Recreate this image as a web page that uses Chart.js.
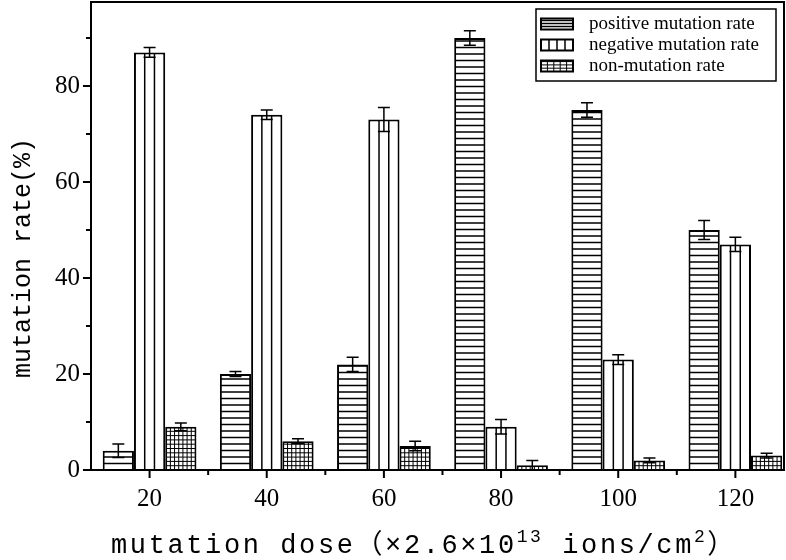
<!DOCTYPE html>
<html>
<head>
<title>Mutation rate vs dose</title>
<meta charset="utf-8">
<script src="https://cdn.jsdelivr.net/npm/chart.js"></script>
<style>
  body { margin: 0; background: #fff; }
  canvas { display: block; }
</style>
</head>
<body>
<canvas id="rateChart" width="786" height="560"></canvas>
<script>
// values
const doses = [20, 40, 60, 80, 100, 120];
const positiveRate = [4, 20, 22, 90, 75, 50];
const negativeRate = [87, 74, 73, 9, 23, 47];
const nonRate = [9, 6, 5, 1, 2, 3];
const positiveErr = [1.4, 0.5, 1.5, 1.5, 1.5, 2];
const negativeErr = [1, 1, 2.5, 1.5, 1, 1.5];
const nonErr = [0.8, 0.5, 1, 1, 0.5, 0.5];
const yTicks = [0, 20, 40, 60, 80];
const yMinorTicks = [10, 30, 50, 70, 90];
const xMinorTicks = [30, 50, 70, 90, 110];
const seriesNames = ['positive mutation rate', 'negative mutation rate', 'non-mutation rate'];
const hatchKinds = ['h', 'v', 'g'];
const errors = [positiveErr, negativeErr, nonErr];

// fill a rectangle with one of the three hatch styles
function hatch(ctx, kind, l, t, r, b, small) {
  ctx.save();
  ctx.beginPath();
  ctx.rect(l, t, r - l, b - t);
  ctx.clip();
  ctx.strokeStyle = '#000';
  ctx.beginPath();
  if (kind === 'h') {
    ctx.lineWidth = 1.5;
    const step = small ? 3 : 6.5;
    for (let y = b - step; y > t + 0.5; y -= step) { ctx.moveTo(l, y); ctx.lineTo(r, y); }
  } else if (kind === 'v') {
    ctx.lineWidth = 1.5;
    const n = small ? 4 : 3;
    const w = (r - l) / n;
    for (let i = 1; i < n; i++) { ctx.moveTo(l + w * i, t); ctx.lineTo(l + w * i, b); }
  } else {
    ctx.lineWidth = 1;
    const n = small ? 5 : 7;
    const w = (r - l) / n;
    for (let i = 1; i < n; i++) { ctx.moveTo(l + w * i, t); ctx.lineTo(l + w * i, b); }
    const step = small ? 3.3 : 4.3;
    for (let y = b - step; y > t + 0.5; y -= step) { ctx.moveTo(l, y); ctx.lineTo(r, y); }
  }
  ctx.stroke();
  ctx.restore();
}

const decorations = {
  id: 'decorations',
  afterDatasetsDraw(chart) {
    const ctx = chart.ctx;
    const yScale = chart.scales.y;
    const xScale = chart.scales.x;
    const area = chart.chartArea;

    // hatching inside bars
    chart.data.datasets.forEach((ds, i) => {
      chart.getDatasetMeta(i).data.forEach(bar => {
        const p = bar.getProps(['x', 'y', 'base', 'width'], true);
        hatch(ctx, hatchKinds[i], p.x - p.width / 2 + 1, p.y + 1, p.x + p.width / 2 - 1, p.base);
      });
    });

    // error bars
    ctx.save();
    ctx.strokeStyle = '#000';
    ctx.lineWidth = 1.5;
    chart.data.datasets.forEach((ds, i) => {
      chart.getDatasetMeta(i).data.forEach((bar, j) => {
        const v = ds.data[j].y;
        const e = errors[i][j];
        const top = yScale.getPixelForValue(v + e);
        const bot = yScale.getPixelForValue(v - e);
        const x = bar.x;
        ctx.beginPath();
        ctx.moveTo(x, top); ctx.lineTo(x, bot);
        ctx.moveTo(x - 6, top); ctx.lineTo(x + 6, top);
        ctx.moveTo(x - 6, bot); ctx.lineTo(x + 6, bot);
        ctx.stroke();
      });
    });
    ctx.restore();

    // frame and tick marks
    ctx.save();
    ctx.strokeStyle = '#000';
    ctx.lineWidth = 2;
    ctx.strokeRect(area.left, area.top, area.right - area.left, area.bottom - area.top);
    ctx.beginPath();
    yTicks.forEach(v => { const y = yScale.getPixelForValue(v); ctx.moveTo(area.left - 8, y); ctx.lineTo(area.left, y); });
    yMinorTicks.forEach(v => { const y = yScale.getPixelForValue(v); ctx.moveTo(area.left - 5, y); ctx.lineTo(area.left, y); });
    doses.forEach(v => { const x = xScale.getPixelForValue(v); ctx.moveTo(x, area.bottom); ctx.lineTo(x, area.bottom + 8); });
    xMinorTicks.forEach(v => { const x = xScale.getPixelForValue(v); ctx.moveTo(x, area.bottom); ctx.lineTo(x, area.bottom + 5); });
    ctx.stroke();
    ctx.restore();

    // legend box
    ctx.save();
    ctx.fillStyle = '#fff';
    ctx.fillRect(536, 9, 240, 72);
    ctx.strokeStyle = '#000';
    ctx.lineWidth = 1.5;
    ctx.strokeRect(536, 9, 240, 72);
    const rows = [24, 45, 66];
    seriesNames.forEach((name, i) => {
      const cy = rows[i];
      ctx.fillStyle = '#fff';
      ctx.fillRect(541, cy - 5.5, 32, 11);
      hatch(ctx, hatchKinds[i], 541, cy - 5.5, 573, cy + 5.5, true);
      ctx.lineWidth = 2;
      ctx.strokeStyle = '#000';
      ctx.strokeRect(541, cy - 5.5, 32, 11);
      ctx.fillStyle = '#000';
      ctx.font = '19px "Liberation Serif"';
      ctx.textBaseline = 'middle';
      ctx.textAlign = 'left';
      ctx.fillText(name, 589, cy);
    });
    ctx.restore();

    // axis titles
    ctx.save();
    ctx.fillStyle = '#000';
    ctx.textBaseline = 'alphabetic';
    const big = '27px "Liberation Mono", "Noto Sans CJK SC"';
    const sup = '18px "Liberation Mono"';
    ctx.letterSpacing = '2.6px';
    const parts = [
      ['mutation dose（×2.6×10', big, 0],
      ['13', sup, -11],
      [' ions/cm', big, 0],
      ['2', sup, -11],
      ['）', big, 0]
    ];
    let total = 0;
    parts.forEach(p => { ctx.font = p[1]; total += ctx.measureText(p[0]).width; });
    let x = 424 - total / 2;
    parts.forEach(p => {
      ctx.font = p[1];
      ctx.textAlign = 'left';
      ctx.fillText(p[0], x, 553 + p[2]);
      x += ctx.measureText(p[0]).width;
    });

    ctx.letterSpacing = '0px';
    ctx.translate(30, 258);
    ctx.rotate(-Math.PI / 2);
    ctx.font = '25px "Liberation Mono", "Noto Sans CJK SC"';
    ctx.textAlign = 'center';
    ctx.fillText('mutation rate(%)', 0, 0);
    ctx.restore();
  }
};

const ctx = document.getElementById('rateChart').getContext('2d');
new Chart(ctx, {
  type: 'bar',
  data: {
    datasets: [positiveRate, negativeRate, nonRate].map((vals, i) => ({
      label: seriesNames[i],
      data: vals.map((v, j) => ({ x: doses[j], y: v })),
      backgroundColor: '#fff',
      borderColor: '#000',
      borderWidth: 2,
      categoryPercentage: 0.8,
      barPercentage: 1.0
    }))
  },
  options: {
    responsive: false,
    devicePixelRatio: 1,
    animation: false,
    layout: { padding: { top: 2, right: 2, left: 0, bottom: 0 } },
    plugins: {
      legend: { display: false },
      tooltip: { enabled: false }
    },
    scales: {
      x: {
        type: 'linear',
        min: 10,
        max: 128.3,
        offset: false,
        grid: { display: false },
        border: { display: false },
        afterBuildTicks: s => { s.ticks = doses.map(v => ({ value: v })); },
        afterFit: s => { s.height = 90; s.paddingLeft = 0; s.paddingRight = 0; },
        ticks: {
          color: '#000',
          font: { family: 'Liberation Serif', size: 25 },
          padding: 6,
          maxRotation: 0,
          autoSkip: false
        }
      },
      y: {
        min: 0,
        max: 97.5,
        grid: { display: false },
        border: { display: false },
        afterBuildTicks: s => { s.ticks = yTicks.map(v => ({ value: v })); },
        afterFit: s => { s.width = 91; s.paddingTop = 0; s.paddingBottom = 0; },
        ticks: {
          color: '#000',
          font: { family: 'Liberation Serif', size: 25 },
          padding: 3
        }
      }
    }
  },
  plugins: [decorations]
});
</script>
</body>
</html>
